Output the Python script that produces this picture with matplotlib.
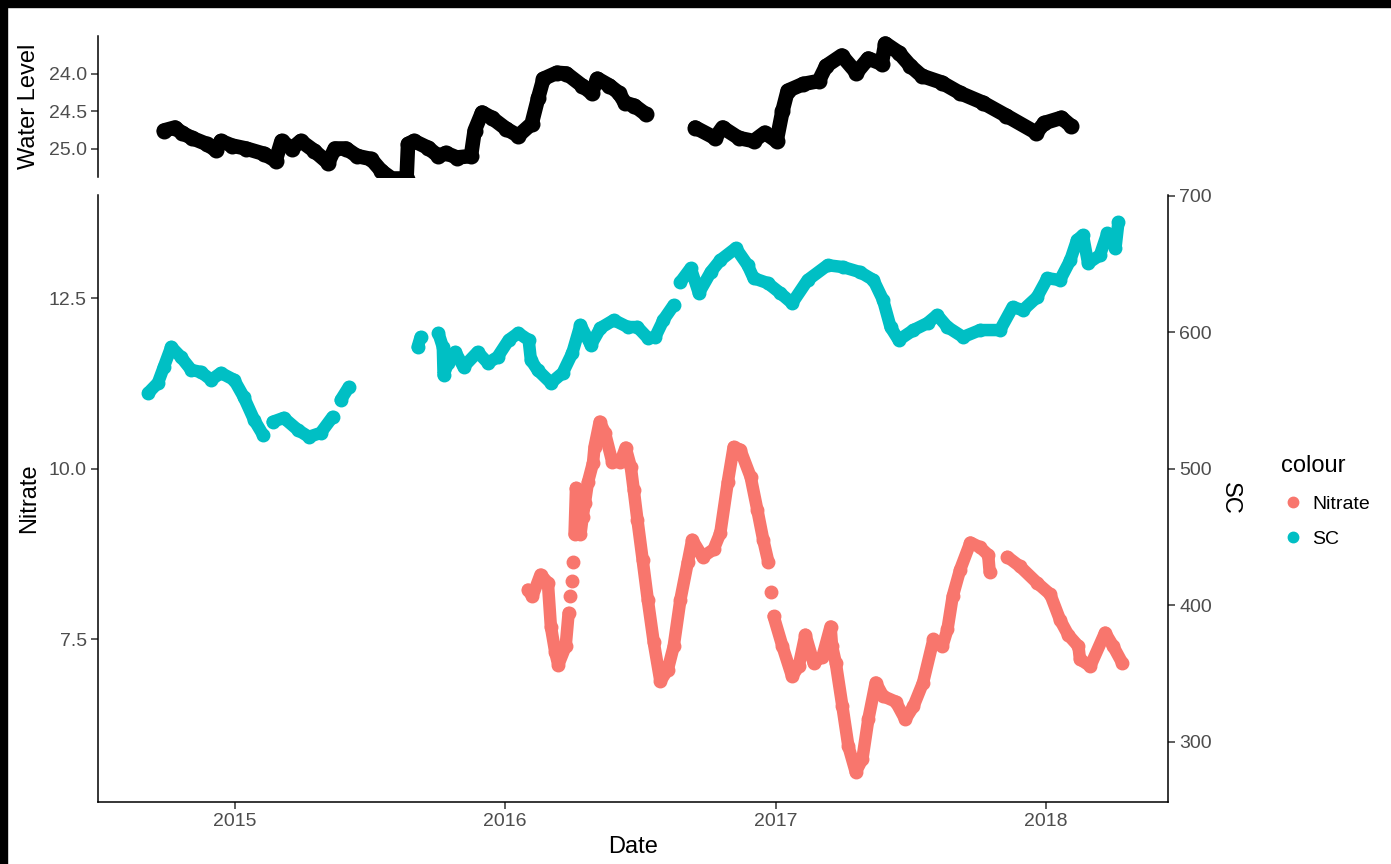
import numpy as np
import pandas as pd
import matplotlib
matplotlib.use("Agg")
import matplotlib.pyplot as plt
import matplotlib.dates as mdates
from matplotlib.lines import Line2D
from matplotlib.patches import Rectangle
from matplotlib.ticker import FormatStrFormatter

plt.rcParams['font.family'] = ['Liberation Sans', 'DejaVu Sans']

nan = np.nan

# water level (depth, plotted on a reversed axis)
wl_dates = ["2014-09-27", "2014-10-12", "2014-10-21", "2014-11-04", "2014-11-24", "2014-12-06",
            "2014-12-13", "2014-12-28", "2015-01-16", "2015-02-09", "2015-02-25", "2015-03-05",
            "2015-03-19", "2015-03-31", "2015-04-18", "2015-05-07", "2015-05-16", "2015-05-31",
            "2015-06-15", "2015-07-04", "2015-07-18", "2015-08-01", "2015-08-21", "2015-08-23",
            "2015-08-31", "2015-09-19", "2015-10-03", "2015-10-13", "2015-10-28", "2015-11-16",
            "2015-11-21", "2015-12-01", "2015-12-14", "2016-01-03", "2016-01-19", "2016-02-06",
            "2016-02-15", "2016-02-22", "2016-03-11", "2016-03-24", "2016-04-14", "2016-04-27",
            "2016-05-05", "2016-05-21", "2016-06-03", "2016-06-11", "2016-06-24", "2016-07-09",
            "2016-08-10",
            "2016-09-14", "2016-10-11", "2016-10-21", "2016-11-12", "2016-12-02", "2016-12-17",
            "2017-01-02", "2017-01-10", "2017-01-17", "2017-02-07", "2017-02-28", "2017-03-10",
            "2017-03-31", "2017-04-20", "2017-05-06", "2017-05-24", "2017-05-29", "2017-06-16",
            "2017-07-02", "2017-07-17", "2017-08-13", "2017-09-07", "2017-10-08", "2017-11-08",
            "2017-12-19", "2017-12-30", "2018-01-22", "2018-02-04"]
wl_vals = [24.76, 24.72, 24.79, 24.86, 24.94, 25.02,
           24.90, 24.96, 25.00, 25.07, 25.16, 24.90,
           25.00, 24.90, 25.03, 25.19, 25.00, 25.00,
           25.10, 25.14, 25.30, 25.40, 25.40, 24.94,
           24.90, 24.99, 25.10, 25.06, 25.12, 25.10,
           24.76, 24.52, 24.59, 24.74, 24.83, 24.67,
           24.32, 24.07, 23.99, 24.00, 24.16, 24.26,
           24.07, 24.16, 24.26, 24.39, 24.43, 24.54,
           nan,
           24.72, 24.86, 24.72, 24.86, 24.90, 24.79,
           24.90, 24.50, 24.23, 24.14, 24.10, 23.90,
           23.76, 23.99, 23.80, 23.87, 23.60, 23.72,
           23.90, 24.03, 24.12, 24.26, 24.39, 24.56,
           24.79, 24.66, 24.59, 24.70]

# specific conductance
sc_dates = ["2014-09-06", "2014-09-19", "2014-09-27", "2014-10-07", "2014-10-20", "2014-11-03",
            "2014-11-16", "2014-11-30", "2014-12-13", "2014-12-31", "2015-01-13", "2015-01-27",
            "2015-02-08", "2015-02-14", "2015-02-21", "2015-03-08", "2015-03-27", "2015-04-11",
            "2015-04-27", "2015-05-13", "2015-05-18", "2015-05-24", "2015-06-04", "2015-07-20",
            "2015-09-05", "2015-09-09", "2015-09-20", "2015-10-03", "2015-10-09", "2015-10-10",
            "2015-10-16", "2015-10-26", "2015-11-06", "2015-11-25", "2015-12-09", "2015-12-22",
            "2016-01-06", "2016-01-19", "2016-02-02", "2016-02-05", "2016-02-14", "2016-03-03",
            "2016-03-19", "2016-04-01", "2016-04-12", "2016-04-26", "2016-05-09", "2016-05-27",
            "2016-06-15", "2016-06-28", "2016-07-12", "2016-07-22", "2016-08-02", "2016-08-16",
            "2016-08-20", "2016-08-25", "2016-09-08", "2016-09-19", "2016-10-05", "2016-10-18",
            "2016-11-08", "2016-11-24", "2016-12-02", "2016-12-21", "2017-01-07", "2017-01-23",
            "2017-02-13", "2017-03-12", "2017-04-02", "2017-04-25", "2017-05-13", "2017-05-26",
            "2017-06-05", "2017-06-16", "2017-07-06", "2017-07-25", "2017-08-07", "2017-08-21",
            "2017-09-11", "2017-10-04", "2017-10-31", "2017-11-17", "2017-12-01", "2017-12-20",
            "2018-01-03", "2018-01-20", "2018-02-03", "2018-02-12", "2018-02-20", "2018-02-27",
            "2018-03-15", "2018-03-25", "2018-04-05", "2018-04-09"]
sc_vals = [555.6, 562.9, 574.6, 589.2, 581.9, 572.4,
           570.9, 565.1, 570.2, 565.1, 552.6, 535.8,
           524.9, nan, 534.4, 537.3, 528.5, 523.4,
           526.3, 538.0, nan, 550.4, 559.9, nan,
           589.2, 596.5, nan, 599.4, 589.2, 568.7,
           577.5, 585.5, 574.6, 585.5, 577.5, 581.9,
           594.3, 599.4, 594.3, 579.7, 572.4, 562.9,
           570.2, 584.8, 605.3, 590.6, 603.1, 608.9,
           603.8, 603.8, 595.8, 596.5, 608.9, 619.9,
           nan, 636.7, 646.9, 628.7, 644.0, 652.8,
           661.6, 649.1, 639.6, 636.0, 628.7, 621.3,
           638.2, 649.1, 647.7, 644.0, 638.2, 623.5,
           603.8, 594.3, 601.6, 606.7, 612.6, 603.8,
           596.5, 601.6, 601.6, 618.4, 616.2, 625.7,
           639.6, 638.2, 652.8, 667.4, 671.1, 650.6,
           656.4, 672.5, 661.6, 680.6]

# nitrate
no3_dates = ["2016-02-01", "2016-02-07", "2016-02-18", "2016-02-28", "2016-03-03", "2016-03-09",
             "2016-03-13", "2016-03-23", "2016-03-27", "2016-03-28", "2016-03-29", "2016-03-30",
             "2016-03-31", "2016-04-01", "2016-04-02", "2016-04-03", "2016-04-04", "2016-04-06",
             "2016-04-08", "2016-04-12", "2016-04-15", "2016-04-18", "2016-04-22", "2016-04-29",
             "2016-05-01", "2016-05-08", "2016-05-15", "2016-05-25", "2016-06-05", "2016-06-12",
             "2016-06-19", "2016-06-23", "2016-06-28", "2016-07-05", "2016-07-12", "2016-07-20",
             "2016-07-29", "2016-08-08", "2016-08-16", "2016-08-25", "2016-09-04", "2016-09-10",
             "2016-09-24", "2016-10-09", "2016-10-18", "2016-10-28", "2016-11-05", "2016-11-14",
             "2016-11-28", "2016-12-07", "2016-12-15", "2016-12-22", "2016-12-24", "2016-12-26",
             "2016-12-27", "2016-12-29", "2017-01-10", "2017-01-23", "2017-02-01", "2017-02-10",
             "2017-02-21", "2017-03-05", "2017-03-16", "2017-03-18", "2017-03-23", "2017-04-01",
             "2017-04-09", "2017-04-19", "2017-04-28", "2017-05-06", "2017-05-16", "2017-05-26",
             "2017-06-12", "2017-06-25", "2017-07-06", "2017-07-19", "2017-08-02", "2017-08-14",
             "2017-08-21", "2017-08-28", "2017-09-07", "2017-09-21", "2017-10-04", "2017-10-15",
             "2017-10-17", "2017-10-25", "2017-11-10", "2017-11-27", "2017-12-20", "2018-01-07",
             "2018-01-20", "2018-01-31", "2018-02-14", "2018-02-16", "2018-03-02", "2018-03-22",
             "2018-04-02", "2018-04-14"]
no3_vals = [8.23, 8.13, 8.45, 8.33, 7.69, 7.31,
            7.13, 7.40, 7.89, nan, 8.13, nan,
            8.35, nan, 8.63, nan, 9.04, 9.72,
            9.37, 9.04, 9.30, 9.50, 9.80, 10.09,
            10.32, 10.69, 10.53, 10.10, 10.10, 10.31,
            10.03, 9.69, 9.25, 8.67, 8.08, 7.46,
            6.89, 7.06, 7.40, 8.08, 8.63, 8.96,
            8.71, 8.82, 9.06, 9.80, 10.32, 10.28,
            9.88, 9.40, 8.96, 8.63, nan, 8.20,
            nan, 7.84, 7.40, 6.96, 7.11, 7.57,
            7.16, 7.25, 7.69, 7.40, 7.16, 6.52,
            5.94, 5.56, 5.75, 6.33, 6.87, 6.67,
            6.59, 6.33, 6.52, 6.87, 7.50, 7.40,
            7.65, 8.13, 8.52, 8.92, 8.85, 8.74,
            8.49, nan, 8.71, 8.57, 8.33, 8.16,
            7.79, 7.57, 7.40, 7.21, 7.11, 7.60,
            7.40, 7.16]

col_no3 = "#F8766D"
col_sc = "#00BFC4"
sc_scale = 50  # SC axis = nitrate axis * 50

W, H = 1391, 864
fig = plt.figure(figsize=(W / 100, H / 100), dpi=100)

left, right = 98 / W, 1168 / W
ax_wl = fig.add_axes([left, 1 - 177 / H, right - left, 141 / H])
ax = fig.add_axes([left, 1 - 802 / H, right - left, 607 / H])
ax2 = ax.twinx()

xlim = (pd.Timestamp("2014-06-30"), pd.Timestamp("2018-06-15"))
tick_col = "#4D4D4D"
tfs = 14

def draw(a, dates, vals, color, size):
    a.plot(pd.to_datetime(dates), vals, "-o", color=color, lw=size, ms=size,
           solid_capstyle="round", solid_joinstyle="round", clip_on=True)

# top panel: water level
draw(ax_wl, wl_dates, wl_vals, "black", 10.5)
ax_wl.set_xlim(xlim)
ax_wl.set_ylim(25.38, 23.5)
ax_wl.set_yticks([24.0, 24.5, 25.0])
ax_wl.yaxis.set_major_formatter(FormatStrFormatter("%.1f"))
for s in ["top", "right", "bottom"]:
    ax_wl.spines[s].set_visible(False)
ax_wl.set_xticks([])
ax_wl.set_ylabel("Water Level", fontsize=17)
ax_wl.yaxis.set_label_coords(-0.054, 0.5)

# main panel: nitrate on the left, SC on the right
draw(ax, no3_dates, no3_vals, col_no3, 9)
draw(ax2, sc_dates, sc_vals, col_sc, 9)
ylo, yhi = 5.12, 14.01
ax.set_ylim(ylo, yhi)
ax2.set_ylim(ylo * sc_scale, yhi * sc_scale)
ax.set_xlim(xlim)
ax.set_yticks([7.5, 10.0, 12.5])
ax.yaxis.set_major_formatter(FormatStrFormatter("%.1f"))
ax2.set_yticks([300, 400, 500, 600, 700])
ax.xaxis.set_major_locator(mdates.YearLocator())
ax.xaxis.set_major_formatter(mdates.DateFormatter("%Y"))
ax.spines["top"].set_visible(False)
ax.spines["right"].set_visible(False)
ax2.spines["top"].set_visible(False)
ax2.spines["left"].set_visible(False)
ax2.spines["bottom"].set_visible(False)
ax.set_ylabel("Nitrate", fontsize=17)
ax.yaxis.set_label_coords(-0.054, 0.5)
ax.set_xlabel("Date", fontsize=17)
ax.xaxis.set_label_coords(0.5, -0.056)
ax2.set_ylabel("SC", fontsize=17, rotation=270, va="center")
ax2.yaxis.set_label_coords(1.058, 0.5)

for a in (ax_wl, ax, ax2):
    a.tick_params(labelsize=tfs, labelcolor=tick_col, color="#333333",
                  length=5, width=1.1, pad=3)
    for s in a.spines.values():
        s.set_linewidth(1.1)
        s.set_color("black")
    a.patch.set_alpha(0)

handles = [Line2D([], [], marker="o", ls="", color=col_no3, ms=7.5),
           Line2D([], [], marker="o", ls="", color=col_sc, ms=7.5)]
leg = fig.legend(handles, ["Nitrate", "SC"], title="colour", loc="upper left",
                 bbox_to_anchor=(1264 / W, 1 - 438 / H), frameon=False,
                 fontsize=14, title_fontsize=17, alignment="left",
                 handletextpad=0.4, labelspacing=0.9, handlelength=1.2)

# dark bands along the top and left edges
fig.patches.append(Rectangle((0, 1 - 7 / H), 1, 7 / H, transform=fig.transFigure,
                             color="black", zorder=10))
fig.patches.append(Rectangle((0, 0), 7 / W, 1, transform=fig.transFigure,
                             color="black", zorder=10))

fig.savefig("out.png", dpi=100)
